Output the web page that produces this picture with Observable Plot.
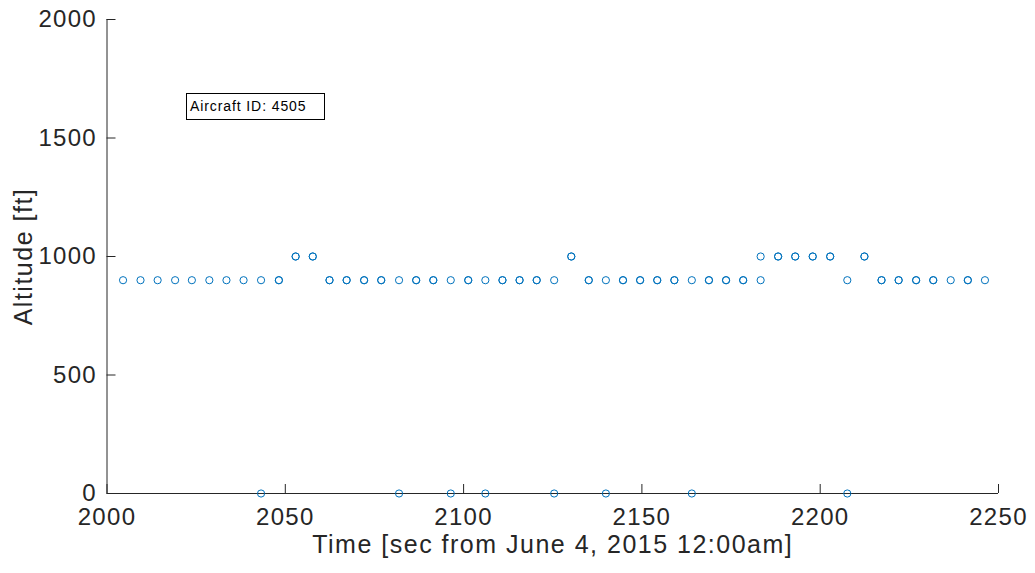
<!DOCTYPE html>
<html>
<head>
<meta charset="utf-8">
<script src="https://cdn.jsdelivr.net/npm/d3@7"></script>
<script src="https://cdn.jsdelivr.net/npm/@observablehq/plot@0.6"></script>
<style>
  html, body { margin: 0; padding: 0; background: #fff; }
  #wrap { position: relative; width: 1035px; height: 573px; }
  #note {
    position: absolute; left: 186px; top: 93px; width: 139px; height: 27px;
    border: 1px solid #000; background: #fff; box-sizing: border-box;
    font-family: "Liberation Sans", Arial, sans-serif; font-size: 14px; color: #000;
    letter-spacing: 0.9px; line-height: 25px; padding-left: 3px; white-space: nowrap;
  }
</style>
</head>
<body>
<div id="wrap"><div id="note">Aircraft ID: 4505</div></div>
<script>
// Time of each report [sec from June 4, 2015 12:00am]
const times = [2004.5, 2009.4, 2014.2, 2019.1, 2023.8, 2028.7, 2033.5, 2038.3,
  2043.2, 2048.2, 2052.9, 2057.7, 2062.4, 2067.2, 2072.1, 2076.9,
  2081.9, 2086.7, 2091.5, 2096.4, 2101.3, 2106.1, 2110.9, 2115.7, 2120.5,
  2125.4, 2130.2, 2135.1, 2139.9, 2144.7, 2149.5, 2154.3, 2159.1,
  2164.0, 2168.8, 2173.6, 2178.4, 2183.3, 2188.2, 2193.0, 2197.9, 2202.8,
  2207.6, 2212.4, 2217.2, 2222.0, 2226.9, 2231.7, 2236.6, 2241.4, 2246.2];
// Altitude [ft] from first report stream
const altA = [900, 900, 900, 900, 900, 900, 900, 900,
  900, 900, 1000, 1000, 900, 900, 900, 900,
  900, 900, 900, 900, 900, 900, 900, 900, 900,
  900, 1000, 900, 900, 900, 900, 900, 900,
  900, 900, 900, 900, 900, 1000, 1000, 1000, 1000,
  900, 1000, 900, 900, 900, 900, 900, 900, 900];
// Altitude [ft] from second report stream (null = no report)
const altB = [null, null, null, null, null, null, null, null,
  0, 900, 1000, 1000, 900, 900, 900, 900,
  0, 900, 900, 0, 900, 0, 900, 900, 900,
  0, 1000, 900, 0, 900, 900, 900, 900,
  0, 900, 900, 900, 1000, 1000, 1000, 1000, 1000,
  0, 1000, 900, 900, 900, 900, null, 900, null];

const xTicks = [2000, 2050, 2100, 2150, 2200, 2250];
const yTicks = [0, 500, 1000, 1500, 2000];
const xDomain = [2000, 2250];
const yDomain = [0, 2000];
const xLabel = "Time [sec from June 4, 2015 12:00am]";
const yLabel = "Altitude [ft]";

const points = [];
times.forEach((t, i) => {
  if (altA[i] != null) points.push({t, alt: altA[i]});
  if (altB[i] != null) points.push({t, alt: altB[i]});
});

const axisColor = "#262626";
const font = "'Liberation Sans', Arial, Helvetica, sans-serif";
const fmt = d => String(d);

const chart = Plot.plot({
  width: 1035,
  height: 573,
  marginLeft: 106.5,
  marginRight: 37,
  marginTop: 19,
  marginBottom: 80,
  style: {fontFamily: font, fontSize: "24px", color: axisColor, background: "#fff", letterSpacing: "1.3px"},
  x: {domain: xDomain},
  y: {domain: yDomain},
  marks: [
    Plot.axisX({ticks: xTicks, tickFormat: fmt, tickSize: -9, tickPadding: 23, label: null, stroke: axisColor, fill: axisColor, fontSize: 24}),
    Plot.axisY({ticks: yTicks, tickSize: -9, text: null, label: null, stroke: axisColor}),
    Plot.axisY({ticks: yTicks, tickFormat: fmt, tickSize: 0, tickPadding: 10, label: null, fill: axisColor, fontSize: 24}),
    Plot.ruleY([yDomain[0]], {stroke: axisColor, strokeWidth: 1}),
    Plot.ruleX([xDomain[0]], {stroke: axisColor, strokeWidth: 1}),
    Plot.dot(points, {x: "t", y: "alt", r: 3.6, stroke: "#0072BD", strokeWidth: 1, fill: "none"}),
    Plot.text([xLabel], {frameAnchor: "bottom", dy: 59, text: d => d, fontSize: 25, fill: axisColor}),
    Plot.text([yLabel], {frameAnchor: "left", textAnchor: "middle", dx: -83, rotate: -90, text: d => d, fontSize: 25, fill: axisColor})
  ]
});
d3.select(chart).selectAll("text").filter(function() {
  const s = this.textContent; return s === xLabel || s === yLabel;
}).style("letter-spacing", "1.5px");
document.getElementById("wrap").prepend(chart);
</script>
</body>
</html>
